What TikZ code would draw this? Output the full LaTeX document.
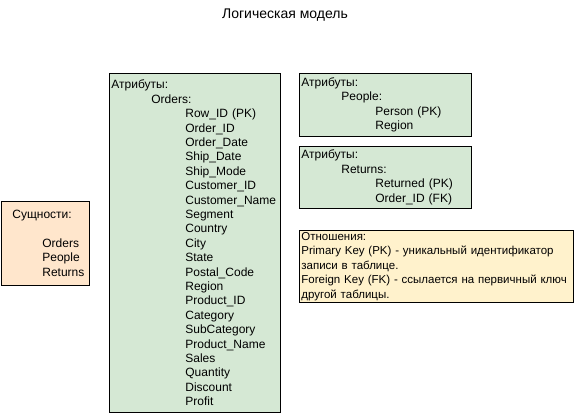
\documentclass[tikz,border=0pt]{standalone}
\usepackage{fontspec}
\setmainfont{Liberation Sans}
\definecolor{attrgreen}{HTML}{D5E8D4}
\definecolor{entpeach}{HTML}{FFE6CC}
\definecolor{relyellow}{HTML}{FFF2CC}
\newcommand{\tabone}{\hspace*{40pt}}
\newcommand{\tabtwo}{\hspace*{74pt}}
\tikzset{
  box/.style={draw=black, line width=0.8pt, align=left, anchor=north west,
    inner xsep=2pt, inner ysep=0pt, font=\fontsize{12}{14.4}\selectfont},
  attrbox/.style={box, fill=attrgreen},
}
\begin{document}
\begin{tikzpicture}[x=1pt,y=-1pt]
\useasboundingbox (0,0) rectangle (576,414);
% заголовок
\node[font=\fontsize{14}{16.8}\selectfont] (title) at (285,15) {Логическая модель};
% сущности
\node[box, fill=entpeach, text width=84pt, minimum height=84pt] (entities) at (0.5,201)
  {\hspace*{9.5pt}Сущности:\\ \mbox{}\\ \hspace*{39.5pt}Orders\\ \hspace*{39.5pt}People\\ \hspace*{39.5pt}Returns};
% атрибуты Orders
\node[attrbox, text width=167pt, minimum height=339pt] (orders) at (109,73)
  {Атрибуты:\\
   \tabone Orders:\\
   \tabtwo Row\_ID (PK)\\
   \tabtwo Order\_ID\\
   \tabtwo Order\_Date\\
   \tabtwo Ship\_Date\\
   \tabtwo Ship\_Mode\\
   \tabtwo Customer\_ID\\
   \tabtwo Customer\_Name\\
   \tabtwo Segment\\
   \tabtwo Country\\
   \tabtwo City\\
   \tabtwo State\\
   \tabtwo Postal\_Code\\
   \tabtwo Region\\
   \tabtwo Product\_ID\\
   \tabtwo Category\\
   \tabtwo SubCategory\\
   \tabtwo Product\_Name\\
   \tabtwo Sales\\
   \tabtwo Quantity\\
   \tabtwo Discount\\
   \tabtwo Profit};
% атрибуты People и Returns
\node[attrbox, text width=168pt, minimum height=63pt] (people) at (299,73)
  {Атрибуты:\\ \tabone People:\\ \tabtwo Person (PK)\\ \tabtwo Region};
\node[attrbox, text width=168pt, minimum height=62pt] (returns) at (299,146)
  {Атрибуты:\\ \tabone Returns:\\ \tabtwo Returned (PK)\\ \tabtwo Order\_ID (FK)};
% отношения
\node[box, fill=relyellow, text width=270pt, minimum height=72pt,
      font=\fontsize{11.5}{14.4}\selectfont] (relations) at (299,230)
  {Отношения:\\
   \mbox{Primary Key (PK) - уникальный идентификатор}\\
   записи в таблице.\\
   \mbox{Foreign Key (FK) - ссылается на первичный ключ}\\
   другой таблицы.};
\end{tikzpicture}
\end{document}
